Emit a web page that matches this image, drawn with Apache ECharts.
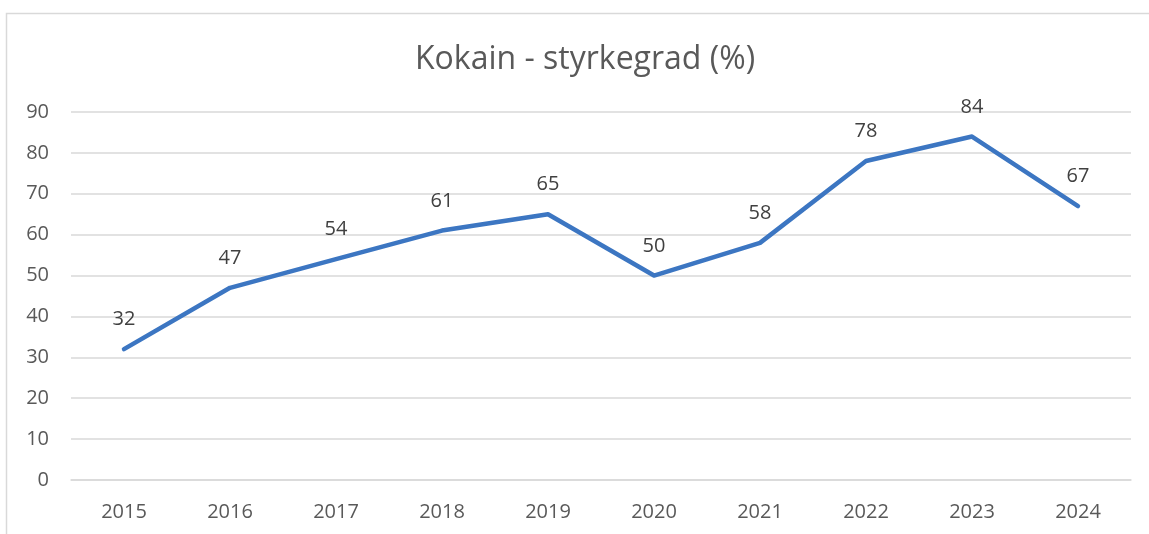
<!DOCTYPE html>
<html>
<head>
<meta charset="utf-8">
<script src="https://cdn.jsdelivr.net/npm/echarts@6/dist/echarts.min.js"></script>
<style>
html,body{margin:0;padding:0;background:#fff;}
#c{width:1149px;height:534px;}
</style>
</head>
<body>
<div id="c"></div>
<script>
const titleText = 'Kokain - styrkegrad (%)';
const years = ['2015','2016','2017','2018','2019','2020','2021','2022','2023','2024'];
const strength = [32,47,54,61,65,50,58,78,84,67];
const yTicks = {min:0, max:90, interval:10};

const chart = echarts.init(document.getElementById('c'), null, {renderer:'canvas'});
const font = '"Open Sans", "Noto Sans", sans-serif';
chart.setOption({
  animation:false,
  backgroundColor:'#ffffff',
  graphic:[{
    type:'rect',
    shape:{x:6.5,y:13.5,width:1300,height:700},
    style:{fill:'none',stroke:'#d9d9d9',lineWidth:1.5},
    silent:true,
    z:-1
  }],
  title:{
    text:titleText,
    left:410,
    top:39,
    textStyle:{fontFamily:font,fontSize:32,fontWeight:'normal',color:'#595959'}
  },
  grid:{left:71,right:18,top:112,bottom:54,containLabel:false},
  xAxis:{
    type:'category',
    data:years,
    boundaryGap:true,
    axisLine:{show:true,lineStyle:{color:'#d9d9d9',width:1.5}},
    axisTick:{show:false},
    axisLabel:{fontFamily:font,fontSize:20,color:'#595959',margin:22}
  },
  yAxis:{
    type:'value',
    min:yTicks.min,max:yTicks.max,interval:yTicks.interval,
    axisLine:{show:false},
    axisTick:{show:false},
    splitLine:{lineStyle:{color:'#d9d9d9',width:1.5}},
    axisLabel:{fontFamily:font,fontSize:20,color:'#595959',margin:22}
  },
  series:[{
    type:'line',
    data:strength,
    symbol:'circle',
    symbolSize:1,
    showSymbol:true,
    itemStyle:{color:'#3c76c2'},
    lineStyle:{color:'#3c76c2',width:4.5,cap:'round',join:'round'},
    label:{show:true,position:'top',distance:19,fontFamily:font,fontSize:20,color:'#404040'}
  }]
});
</script>
</body>
</html>
